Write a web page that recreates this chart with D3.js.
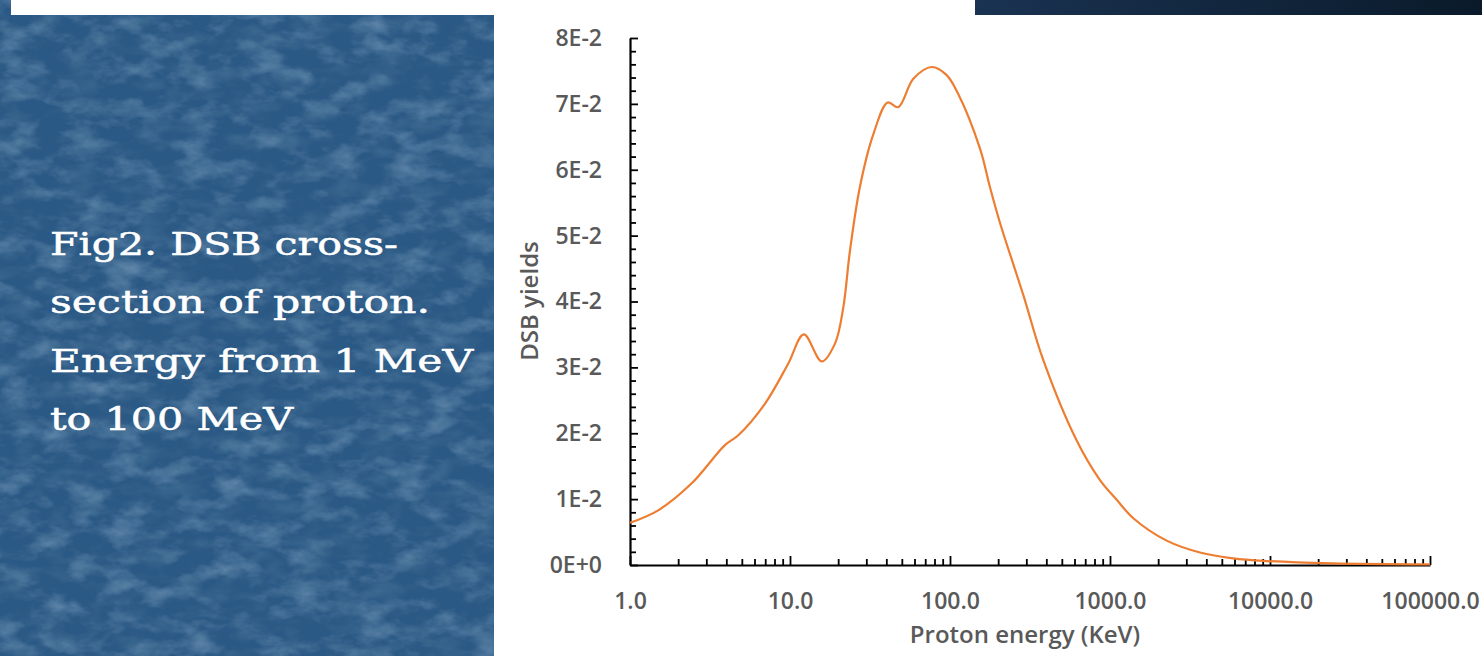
<!DOCTYPE html>
<html>
<head>
<meta charset="utf-8">
<style>
  body { margin: 0; background: #fff; }
  .tick text { font-family: "Open Sans", sans-serif; font-weight: 600; font-size: 23px; fill: #595959; }
  .axis-title { font-family: "Open Sans", sans-serif; font-weight: 600; font-size: 24px; fill: #595959; }
  .caption { font-family: "DejaVu Serif", serif; font-size: 32px; fill: #fff; stroke: #fff; stroke-width: 0.5px; }
</style>
<script src="https://cdn.jsdelivr.net/npm/d3@7"></script>
</head>
<body>
<svg width="1482" height="656"></svg>
<script>
// proton energy (keV) and DSB yields
var energy = [1, 1.5, 2.43, 3.92, 4.75, 6.98, 9.76, 12.2, 15.8, 19.1, 21.5, 23.7, 27.4, 33.2, 40.8, 47.5,
              59, 76.8, 95, 112, 154, 178, 205, 287, 383, 619, 866, 1101, 1399, 2260, 3651, 5893, 9550, 24500, 100000];
var dsbYield = [0.0064, 0.0083, 0.0124, 0.0182, 0.0197, 0.0245, 0.0306, 0.0350, 0.0309, 0.0336, 0.0390, 0.0477,
                0.0575, 0.0654, 0.0702, 0.0695, 0.0738, 0.0756, 0.0744, 0.0716, 0.0632, 0.0573, 0.0520, 0.0410,
                0.0311, 0.0189, 0.0129, 0.0099, 0.0071, 0.0037, 0.0019, 0.0010, 0.0006, 0.00025, 0.0001];

var xTickValues = [1, 10, 100, 1000, 10000, 100000];
var xTickLabels = ["1.0", "10.0", "100.0", "1000.0", "10000.0", "100000.0"];
var yTickValues = [0, 0.01, 0.02, 0.03, 0.04, 0.05, 0.06, 0.07, 0.08];
var yTickLabels = ["0E+0", "1E-2", "2E-2", "3E-2", "4E-2", "5E-2", "6E-2", "7E-2", "8E-2"];
var captionLines = ["Fig2. DSB cross-", "section of proton.", "Energy from 1 MeV", "to 100 MeV"];

var svg = d3.select("svg");
var defs = svg.append("defs");

// mottled blue texture for the slide panel
var f1 = defs.append("filter").attr("id", "lightTex")
  .attr("x", 0).attr("y", 0).attr("width", 1).attr("height", 1);
f1.append("feTurbulence").attr("type", "fractalNoise")
  .attr("baseFrequency", "0.028 0.05").attr("numOctaves", 4).attr("seed", 7);
f1.append("feColorMatrix").attr("type", "matrix")
  .attr("values", "0 0 0 0 0.42  0 0 0 0 0.58  0 0 0 0 0.74  0.9 0 0 0 -0.42");
var f2 = defs.append("filter").attr("id", "darkTex")
  .attr("x", 0).attr("y", 0).attr("width", 1).attr("height", 1);
f2.append("feTurbulence").attr("type", "fractalNoise")
  .attr("baseFrequency", "0.03 0.06").attr("numOctaves", 3).attr("seed", 19);
f2.append("feColorMatrix").attr("type", "matrix")
  .attr("values", "0 0 0 0 0.08  0 0 0 0 0.2  0 0 0 0 0.33  0 -1.1 0 0 0.6");

var grad = defs.append("linearGradient").attr("id", "navy");
grad.append("stop").attr("offset", "0%").attr("stop-color", "#1a3352");
grad.append("stop").attr("offset", "100%").attr("stop-color", "#0a1a2a");

svg.append("rect").attr("x", 0).attr("y", 0).attr("width", 494).attr("height", 656).attr("fill", "#2b5985");
svg.append("rect").attr("x", 0).attr("y", 0).attr("width", 494).attr("height", 656).attr("filter", "url(#lightTex)");
svg.append("rect").attr("x", 0).attr("y", 0).attr("width", 494).attr("height", 656).attr("filter", "url(#darkTex)");
svg.append("rect").attr("x", 11).attr("y", 0).attr("width", 483).attr("height", 15).attr("fill", "#fff");
svg.append("rect").attr("x", 975).attr("y", 0).attr("width", 507).attr("height", 15).attr("fill", "url(#navy)");

// caption on the left
var capWidths = [348, 380, 423, 243];
svg.append("g").selectAll("text")
  .data(captionLines)
  .enter().append("text")
  .attr("class", "caption")
  .attr("x", 50)
  .attr("y", function(d, i) { return 255 + i * 58.3; })
  .attr("textLength", function(d, i) { return capWidths[i]; })
  .attr("lengthAdjust", "spacingAndGlyphs")
  .text(function(d) { return d; });

// chart
var x = d3.scaleLog().domain([1, 100000]).range([630, 1430]);
var y = d3.scaleLinear().domain([0, 0.08]).range([565, 38]);

var xMinor = [];
for (var k = 0; k < 5; k++) {
  for (var m = 2; m <= 9; m++) xMinor.push(m * Math.pow(10, k));
}
var yMinor = d3.range(0, 41).map(function(i) { return i * 0.002; })
  .filter(function(v, i) { return i % 5 !== 0; });

var chart = svg.append("g");

chart.append("g")
  .attr("transform", "translate(0,565)")
  .call(d3.axisBottom(x).tickValues(xMinor).tickFormat("").tickSize(-6).tickSizeOuter(0))
  .call(function(g) { g.select(".domain").remove(); })
  .selectAll("line").attr("stroke", "#000").attr("stroke-width", 1.8);

chart.append("g")
  .attr("transform", "translate(630,0)")
  .call(d3.axisLeft(y).tickValues(yMinor).tickFormat("").tickSize(-6).tickSizeOuter(0))
  .call(function(g) { g.select(".domain").remove(); })
  .selectAll("line").attr("stroke", "#000").attr("stroke-width", 1.8);

var xAxis = chart.append("g")
  .attr("transform", "translate(0,565)")
  .call(d3.axisBottom(x).tickValues(xTickValues)
    .tickFormat(function(d, i) { return xTickLabels[i]; })
    .tickSize(-9).tickSizeOuter(0).tickPadding(28));
xAxis.select(".domain").attr("stroke", "#000").attr("stroke-width", 2.2);
xAxis.selectAll(".tick line").attr("stroke", "#000").attr("stroke-width", 1.8);

var yAxis = chart.append("g")
  .attr("transform", "translate(630,0)")
  .call(d3.axisLeft(y).tickValues(yTickValues)
    .tickFormat(function(d, i) { return yTickLabels[i]; })
    .tickSize(-8).tickSizeOuter(0).tickPadding(28));
yAxis.select(".domain").attr("stroke", "#000").attr("stroke-width", 2.2);
yAxis.selectAll(".tick line").attr("stroke", "#000").attr("stroke-width", 1.8);

var line = d3.line()
  .x(function(d) { return x(d[0]); })
  .y(function(d) { return y(d[1]); })
  .curve(d3.curveCatmullRom.alpha(0.5));

chart.append("path")
  .datum(d3.zip(energy, dsbYield))
  .attr("d", line)
  .attr("fill", "none")
  .attr("stroke", "#ed7d31")
  .attr("stroke-width", 2.2);

svg.append("text")
  .attr("class", "axis-title")
  .attr("x", 1025).attr("y", 643)
  .attr("text-anchor", "middle")
  .text("Proton energy (KeV)");

svg.append("text")
  .attr("class", "axis-title")
  .attr("transform", "translate(538,301) rotate(-90)")
  .attr("text-anchor", "middle")
  .text("DSB yields");
</script>
</body>
</html>
